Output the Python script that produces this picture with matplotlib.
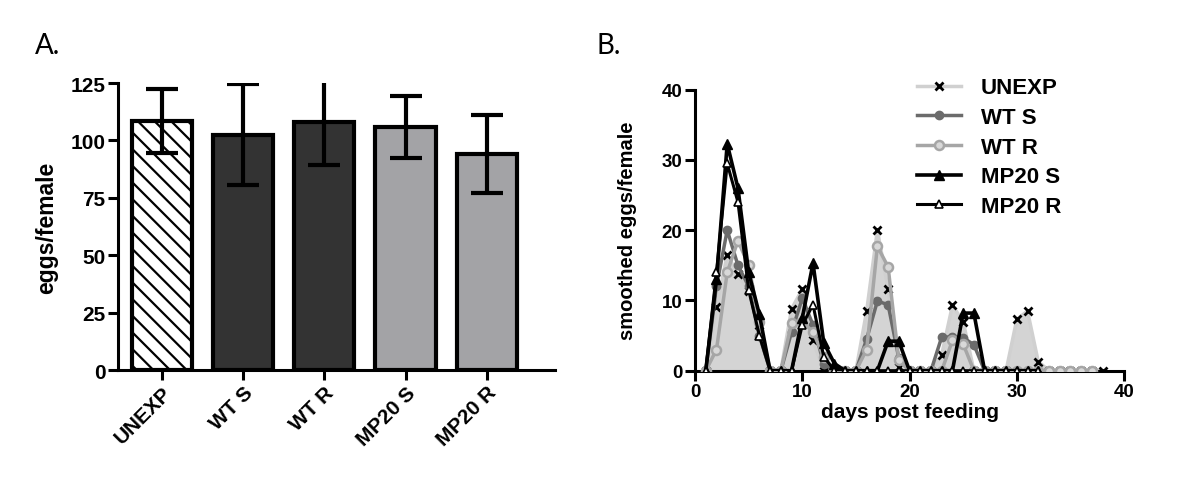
import matplotlib
matplotlib.use("Agg")
import matplotlib.pyplot as plt
from matplotlib.lines import Line2D
import numpy as np

plt.rcParams['font.family'] = ['Liberation Sans', 'DejaVu Sans']
plt.rcParams['hatch.linewidth'] = 1.6

# ---------------- Panel A data ----------------
groups = ["UNEXP", "WT S", "WT R", "MP20 S", "MP20 R"]
means = [108.5, 102.5, 108.0, 106.0, 94.0]
errs = [14.0, 22.0, 18.5, 13.5, 17.0]
bar_colors = ["white", "#333333", "#333333", "#a3a3a6", "#a3a3a6"]
bar_hatches = ["\\\\", None, None, None, None]

# ---------------- Panel B data ----------------
days_unexp = list(range(1, 39))
unexp = [0, 9, 16.5, 13.7, 11.3, 6.5, 0, 0, 8.8, 11.6, 4.3, 0, 0, 0, 0, 8.5,
         20, 11.7, 0.5, 0, 0, 0, 2.3, 9.3, 7.0, 0, 0, 0, 0, 7.3, 8.5, 1.3,
         0, 0, 0, 0, 0, 0]
days_wts = list(range(1, 33))
wt_s = [0, 12, 20, 15, 12, 5, 0, 0, 5.5, 10.3, 6.5, 1, 0, 0, 0, 4.5,
        9.9, 9.4, 1.8, 0, 0, 0, 4.8, 4.8, 4.7, 3.7, 0, 0, 0, 0, 0, 0]
days_wtr = list(range(1, 38))
wt_r = [0, 3, 14, 18.5, 15, 7, 0, 0, 6.8, 7.0, 5.5, 2, 0, 0, 0, 3,
        17.7, 14.8, 1.5, 0, 0, 0, 0, 4.3, 3.8, 0, 0, 0, 0, 0, 0, 0,
        0, 0, 0, 0, 0]
days_mp = list(range(1, 33))
mp20_s = [0, 13, 32.3, 26, 14, 8, 0, 0, 0, 7.5, 15.3, 4, 1, 0, 0, 0,
          0, 4.2, 4.2, 0, 0, 0, 0, 0, 8.2, 8.2, 0, 0, 0, 0, 0, 0]
mp20_r = [0, 14, 29.5, 24, 11.5, 5, 0, 0, 0, 6.5, 9.4, 2, 0, 0, 0, 0,
          0, 0, 0, 0, 0, 0, 0, 0, 0, 0, 0, 0, 0, 0, 0, 0]

fig = plt.figure(figsize=(12, 4.89), dpi=100)

# ---------------- Panel A ----------------
axA = fig.add_axes([0.0983, 0.2413, 0.3642, 0.5869])
x = np.arange(len(groups))
for i in range(len(groups)):
    axA.bar(x[i], means[i], width=0.74, color=bar_colors[i], edgecolor="black",
            linewidth=3, hatch=bar_hatches[i], zorder=2)
axA.errorbar(x, means, yerr=errs, fmt="none", ecolor="black", elinewidth=3,
             capsize=11.5, capthick=3, zorder=3)
axA.set_xlim(-0.54, 4.84)
axA.set_ylim(0, 125)
axA.set_yticks([0, 25, 50, 75, 100, 125])
axA.set_xticks(x)
axA.set_xticklabels(groups, rotation=45, ha="right", rotation_mode="anchor",
                    fontsize=15, fontweight="bold")
for lab in axA.get_yticklabels():
    lab.set_fontsize(15)
    lab.set_fontweight("bold")
axA.spines["top"].set_visible(False)
axA.spines["right"].set_visible(False)
axA.spines["left"].set_linewidth(2.2)
axA.spines["bottom"].set_linewidth(2.2)
axA.tick_params(axis="both", direction="out", length=7, width=2.2, pad=2)
axA.set_ylabel("eggs/female", fontsize=16.5, fontweight="bold", labelpad=9)

# ---------------- Panel B ----------------
axB = fig.add_axes([0.5792, 0.2399, 0.3575, 0.5746])
axB.fill_between(days_unexp, unexp, 0, color="#d4d4d4", linewidth=0, zorder=1)
axB.plot(days_unexp, unexp, color="#d0d0d0", linewidth=2.5, marker="x",
         markersize=6, markeredgewidth=2, markeredgecolor="black", zorder=2)
axB.plot(days_wts, wt_s, color="#6b6b6b", linewidth=2.5, marker="o",
         markersize=6, markerfacecolor="#6b6b6b", markeredgecolor="#6b6b6b", zorder=3)
axB.plot(days_wtr, wt_r, color="#a6a6a6", linewidth=2.5, marker="o",
         markersize=6.5, markerfacecolor="#d8d8d8", markeredgecolor="#a6a6a6",
         markeredgewidth=1.8, zorder=4)
axB.plot(days_mp, mp20_s, color="black", linewidth=2.6, marker="^",
         markersize=6.5, markerfacecolor="black", markeredgecolor="black", zorder=5)
axB.plot(days_mp, mp20_r, color="black", linewidth=2.2, marker="^",
         markersize=6, markerfacecolor="white", markeredgecolor="black",
         markeredgewidth=1.2, zorder=6)
axB.set_xlim(0, 40)
axB.set_ylim(0, 40)
axB.set_xticks([0, 10, 20, 30, 40])
axB.set_yticks([0, 10, 20, 30, 40])
for lab in axB.get_xticklabels() + axB.get_yticklabels():
    lab.set_fontsize(13.5)
    lab.set_fontweight("bold")
axB.spines["top"].set_visible(False)
axB.spines["right"].set_visible(False)
axB.spines["left"].set_linewidth(2.2)
axB.spines["bottom"].set_linewidth(2.2)
axB.tick_params(axis="both", direction="out", length=7, width=2.2, pad=2)
axB.set_ylabel("smoothed eggs/female", fontsize=14.5, fontweight="bold", labelpad=18)
axB.set_xlabel("days post feeding", fontsize=15, fontweight="bold", labelpad=1)

handles = [
    Line2D([], [], color="#d0d0d0", linewidth=2.5, marker="x", markersize=6,
           markeredgewidth=2, markeredgecolor="black"),
    Line2D([], [], color="#6b6b6b", linewidth=2.5, marker="o", markersize=6,
           markerfacecolor="#6b6b6b", markeredgecolor="#6b6b6b"),
    Line2D([], [], color="#a6a6a6", linewidth=2.5, marker="o", markersize=6.5,
           markerfacecolor="#d8d8d8", markeredgecolor="#a6a6a6", markeredgewidth=1.8),
    Line2D([], [], color="black", linewidth=2.6, marker="^", markersize=6.5,
           markerfacecolor="black"),
    Line2D([], [], color="black", linewidth=2.2, marker="^", markersize=6,
           markerfacecolor="white", markeredgecolor="black", markeredgewidth=1.2),
]
leg = axB.legend(handles, groups, loc="upper left", bbox_to_anchor=(0.47, 1.115),
                 frameon=False, handlelength=2.0, handletextpad=0.9,
                 labelspacing=0.39, prop={"size": 16, "weight": "bold"})

# Panel letters
fig.text(0.029, 0.905, "A.", fontsize=20, family=["Lato", "DejaVu Sans"], va="center")
fig.text(0.497, 0.905, "B.", fontsize=20, family=["Lato", "DejaVu Sans"], va="center")

fig.savefig("out.png", dpi=100)
